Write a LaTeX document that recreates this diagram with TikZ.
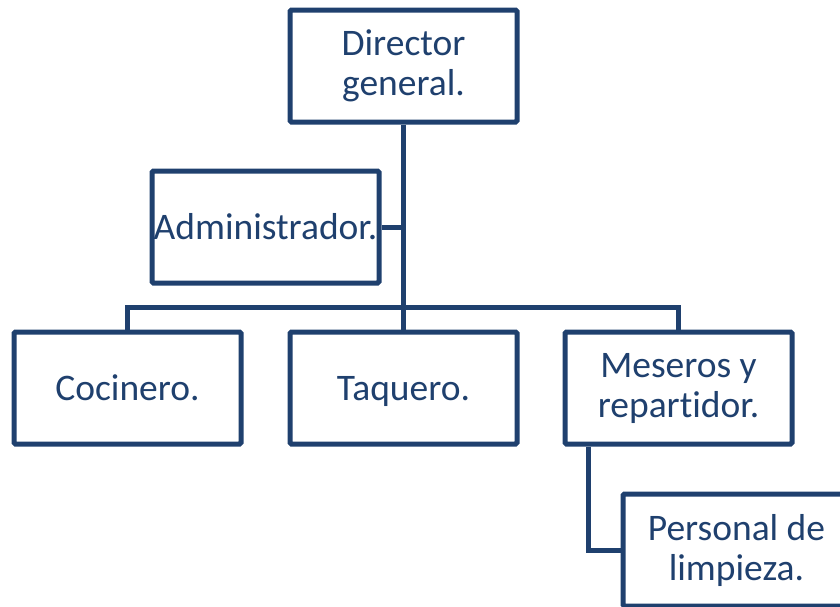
\documentclass[tikz,border=0pt]{standalone}
\usepackage{fontspec}
\setmainfont[Ligatures={NoCommon}]{Carlito}
\definecolor{navy}{RGB}{31,64,110}
\newcommand{\onestrut}{\vrule height 32pt depth 8pt width 0pt}
\begin{document}
\begin{tikzpicture}[x=1pt,y=-1pt,
  orgbox/.style={draw=navy, line width=5pt, rounded corners=1.5pt, fill=white,
    minimum width=227pt, minimum height=112pt, inner sep=0pt,
    align=center, text=navy, font=\fontsize{37.5}{40}\selectfont},
  link/.style={draw=navy, line width=5pt}]
\useasboundingbox (0,0) rectangle (840,606);
\clip (0,0) rectangle (840,606);
\node[orgbox] (dir) at (403.5,66) {Director\\general.};
\node[orgbox] (adm) at (265.5,227) {\onestrut Administrador.};
\node[orgbox] (coc) at (127.5,388) {\onestrut Cocinero.};
\node[orgbox] (taq) at (403.5,388) {\onestrut Taquero.};
\node[orgbox] (mes) at (678.5,388) {Meseros y\\repartidor.};
\node[orgbox] (per) at (736.5,550) {Personal de\\limpieza.};
\coordinate (bus) at (403.5,307);
\draw[link] (dir.south) -- (bus);
\draw[link] (adm.east) -- (adm.east -| bus);
\draw[link] (coc.north) |- (bus) -| (mes.north);
\draw[link] (taq.north) -- (bus);
\draw[link] ([xshift=-90.5pt]mes.south) |- (per.west);
\end{tikzpicture}
\end{document}
